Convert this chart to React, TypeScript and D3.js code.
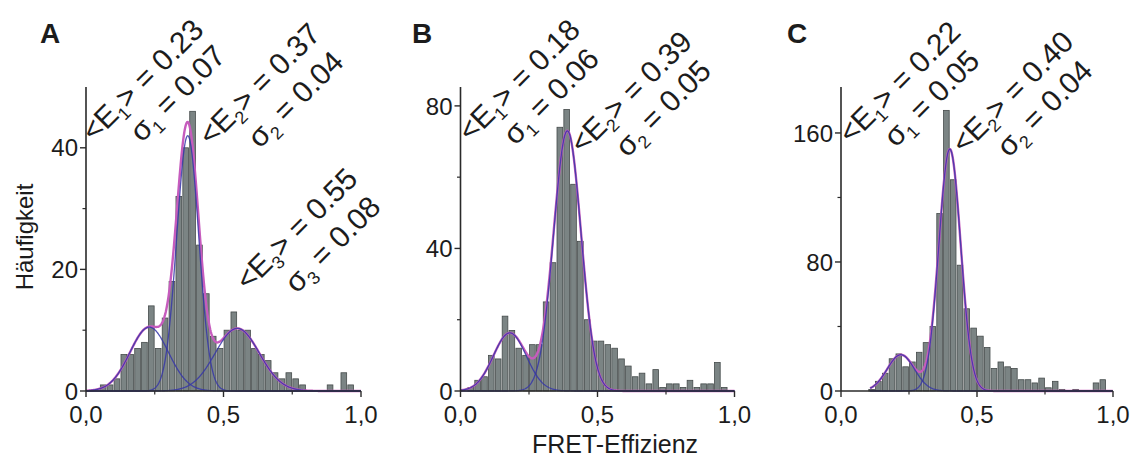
import React from "react";
import * as d3 from "d3";

// ---------- data ----------
const BIN_WIDTH = 0.025;
const countsA = [0, 0, 1, 1, 2, 6, 6, 7, 8, 14, 7, 12, 18, 32, 40, 46, 24, 16, 9, 7, 10, 13, 10, 10, 7, 6, 5, 3, 2, 3, 2, 1, 0, 0, 0, 1, 0, 3, 1, 0];
const countsB = [0, 1, 3, 4, 10, 9, 21, 17, 12, 10, 13, 13, 25, 36, 74, 79, 58, 42, 20, 14, 14, 13, 12, 9, 7, 4, 5, 2, 6, 1, 2, 2, 1, 3, 1, 2, 2, 8, 1, 0];
const countsC = [0, 0, 0, 0, 1, 6, 11, 20, 23, 15, 18, 24, 30, 40, 110, 174, 131, 78, 51, 39, 34, 27, 14, 18, 15, 14, 7, 7, 5, 8, 2, 6, 1, 0, 1, 0, 0, 5, 7, 0];

// Gaussian fit components: mean <E>, sigma, amplitude
const fitsA = [
  { mean: 0.23, sigma: 0.07, amp: 10.5 },
  { mean: 0.37, sigma: 0.04, amp: 42 },
  { mean: 0.55, sigma: 0.08, amp: 10.3 },
];
const fitsB = [
  { mean: 0.18, sigma: 0.06, amp: 16.3 },
  { mean: 0.39, sigma: 0.05, amp: 73 },
];
const fitsC = [
  { mean: 0.22, sigma: 0.05, amp: 22.5 },
  { mean: 0.40, sigma: 0.04, amp: 150 },
];
const fitRangeA = [0.0, 1.0];
const fitRangeB = [0.0, 1.0];
const fitRangeC = [0.107, 1.0];

const yMajorA = [0, 20, 40];
const yMinorA = [10, 30];
const yMajorB = [0, 40, 80];
const yMinorB = [20, 60];
const yMajorC = [0, 80, 160];
const yMinorC = [40, 120];
const xMajor = [0, 0.5, 1.0];
const xMinor = [0.25, 0.75];
const xTickLabels = ["0,0", "0,5", "1,0"];
const panelLetters = ["A", "B", "C"];
const xTitle = "FRET-Effizienz";
const yTitle = "Häufigkeit";

// ---------- layout ----------
const FONT = "'Liberation Sans', Arial, Helvetica, sans-serif";
const TEXT = "#1c1c1c";
const Y0 = 391;
const YTOP = 87;
const ANN_FS = 30;

const panels = [
  { x0: 86, x1: 361, yMax: 50, counts: countsA, fits: fitsA, range: fitRangeA, major: yMajorA, minor: yMinorA, letterX: 40,
    ann: [
      { idx: "1", val: "0.23", sig: "0.07", ex: 59, ey: 78, sx: 81, sy: 104 },
      { idx: "2", val: "0.37", sig: "0.04", ex: 176, ey: 82, sx: 199, sy: 110 },
      { idx: "3", val: "0.55", sig: "0.08", ex: 213, ey: 227, sx: 236, sy: 255 },
    ] },
  { x0: 460.5, x1: 734.5, yMax: 85.3, counts: countsB, fits: fitsB, range: fitRangeB, major: yMajorB, minor: yMinorB, letterX: 412,
    ann: [
      { idx: "1", val: "0.18", sig: "0.06", ex: 61, ey: 78, sx: 80, sy: 107 },
      { idx: "2", val: "0.39", sig: "0.05", ex: 173, ey: 90, sx: 192, sy: 119 },
    ] },
  { x0: 841, x1: 1113, yMax: 188.5, counts: countsC, fits: fitsC, range: fitRangeC, major: yMajorC, minor: yMinorC, letterX: 787,
    ann: [
      { idx: "1", val: "0.22", sig: "0.05", ex: 61, ey: 80, sx: 80, sy: 109 },
      { idx: "2", val: "0.40", sig: "0.04", ex: 174, ey: 90, sx: 193, sy: 119 },
    ] },
];

function gauss(x: number, f: { mean: number; sigma: number; amp: number }) {
  return f.amp * Math.exp(-((x - f.mean) ** 2) / (2 * f.sigma * f.sigma));
}

function AnnLine({ x, y, kind, sub, right }: { x: number; y: number; kind: string; sub: string; right: string }) {
  const fs = ANN_FS;
  const off = 0.33 * fs * Math.SQRT1_2;
  const bx = x + off;
  const by = y + off;
  const eqHalf = 0.292 * fs;
  const space = 0.278 * fs;
  const subShift = 0.22 * fs;
  return (
    <g transform={`translate(${bx},${by}) rotate(-45)`} fontFamily={FONT} fill={TEXT}>
      <text x={-eqHalf - space} y={0} textAnchor="end" fontSize={fs}>
        {kind === "E" ? "<E" : "σ"}
        <tspan fontSize={fs * 0.6} dy={subShift}>{sub}</tspan>
        <tspan fontSize={fs} dy={-subShift}>{kind === "E" ? ">" : ""}</tspan>
      </text>
      <text x={-eqHalf} y={0} fontSize={fs}>{"= " + right}</text>
    </g>
  );
}

function Panel({ p, i }: { p: any; i: number }) {
  const x = d3.scaleLinear().domain([0, 1]).range([p.x0, p.x1]);
  const y = d3.scaleLinear().domain([0, p.yMax]).range([Y0, YTOP]);
  const xs = d3.range(p.range[0], p.range[1] + 1e-9, 0.002);
  const line = d3
    .line<number[]>()
    .x((d) => x(d[0]))
    .y((d) => y(d[1]));
  const sumPts = xs.map((v) => [v, d3.sum(p.fits, (f: any) => gauss(v, f))]);
  const compPts = p.fits.map((f: any) => xs.map((v) => [v, gauss(v, f)]));
  const axisColor = "#2a2a2a";
  return (
    <g>
      {p.counts.map((c: number, k: number) =>
        c > 0 ? (
          <rect
            key={k}
            x={x(k * BIN_WIDTH) + 0.6}
            y={y(c)}
            width={x((k + 1) * BIN_WIDTH) - x(k * BIN_WIDTH) - 1.2}
            height={Y0 - y(c)}
            fill="#7b8484"
            stroke="#454b4b"
            strokeWidth={0.8}
          />
        ) : null
      )}
      <path d={line(sumPts as any) || ""} fill="none" stroke="#c65cbd" strokeWidth={2.4} />
      {compPts.map((pts: any, k: number) => (
        <path key={k} d={line(pts) || ""} fill="none" stroke="#3636a8" strokeWidth={1.3} opacity={0.85} />
      ))}
      <line x1={p.x0} x2={p.x0} y1={Y0} y2={YTOP} stroke={axisColor} strokeWidth={1.6} />
      <line x1={p.x0} x2={p.x1} y1={Y0} y2={Y0} stroke={axisColor} strokeWidth={1.6} />
      {p.major.map((t: number) => (
        <g key={"ym" + t}>
          <line x1={p.x0 - 6} x2={p.x0} y1={y(t)} y2={y(t)} stroke={axisColor} strokeWidth={1.4} />
          <text x={p.x0 - 8} y={y(t)} dy="0.36em" textAnchor="end" fontSize={24} fontFamily={FONT} fill={TEXT}>
            {t}
          </text>
        </g>
      ))}
      {p.minor.map((t: number) => (
        <line key={"yn" + t} x1={p.x0 - 3.5} x2={p.x0} y1={y(t)} y2={y(t)} stroke={axisColor} strokeWidth={1.2} />
      ))}
      {xMajor.map((t, k) => (
        <g key={"xm" + t}>
          <line x1={x(t)} x2={x(t)} y1={Y0} y2={Y0 + 6} stroke={axisColor} strokeWidth={1.4} />
          <text x={x(t)} y={Y0 + 32} textAnchor="middle" fontSize={24} fontFamily={FONT} fill={TEXT}>
            {xTickLabels[k]}
          </text>
        </g>
      ))}
      {xMinor.map((t) => (
        <line key={"xn" + t} x1={x(t)} x2={x(t)} y1={Y0} y2={Y0 + 3.5} stroke={axisColor} strokeWidth={1.2} />
      ))}
      <text x={p.letterX} y={43} fontSize={28} fontWeight="bold" fontFamily={FONT} fill={TEXT}>
        {panelLetters[i]}
      </text>
      {p.ann.map((a: any, k: number) => (
        <g key={"ann" + k}>
          <AnnLine x={p.x0 + a.ex} y={a.ey} kind="E" sub={a.idx} right={a.val} />
          <AnnLine x={p.x0 + a.sx} y={a.sy} kind="s" sub={a.idx} right={a.sig} />
        </g>
      ))}
    </g>
  );
}

export default function App() {
  return (
    <svg
      width={1131}
      height={460}
      viewBox="0 0 1131 460"
      style={{ position: "absolute", left: 0, top: 0, background: "#fff" }}
    >
      <rect x={0} y={0} width={1131} height={460} fill="#fff" />
      {panels.map((p, i) => (
        <Panel key={i} p={p} i={i} />
      ))}
      <text transform={`translate(33,237) rotate(-90)`} textAnchor="middle" fontSize={24} fontFamily={FONT} fill={TEXT}>
        {yTitle}
      </text>
      <text x={615} y={453} textAnchor="middle" fontSize={25} fontFamily={FONT} fill={TEXT}>
        {xTitle}
      </text>
    </svg>
  );
}
